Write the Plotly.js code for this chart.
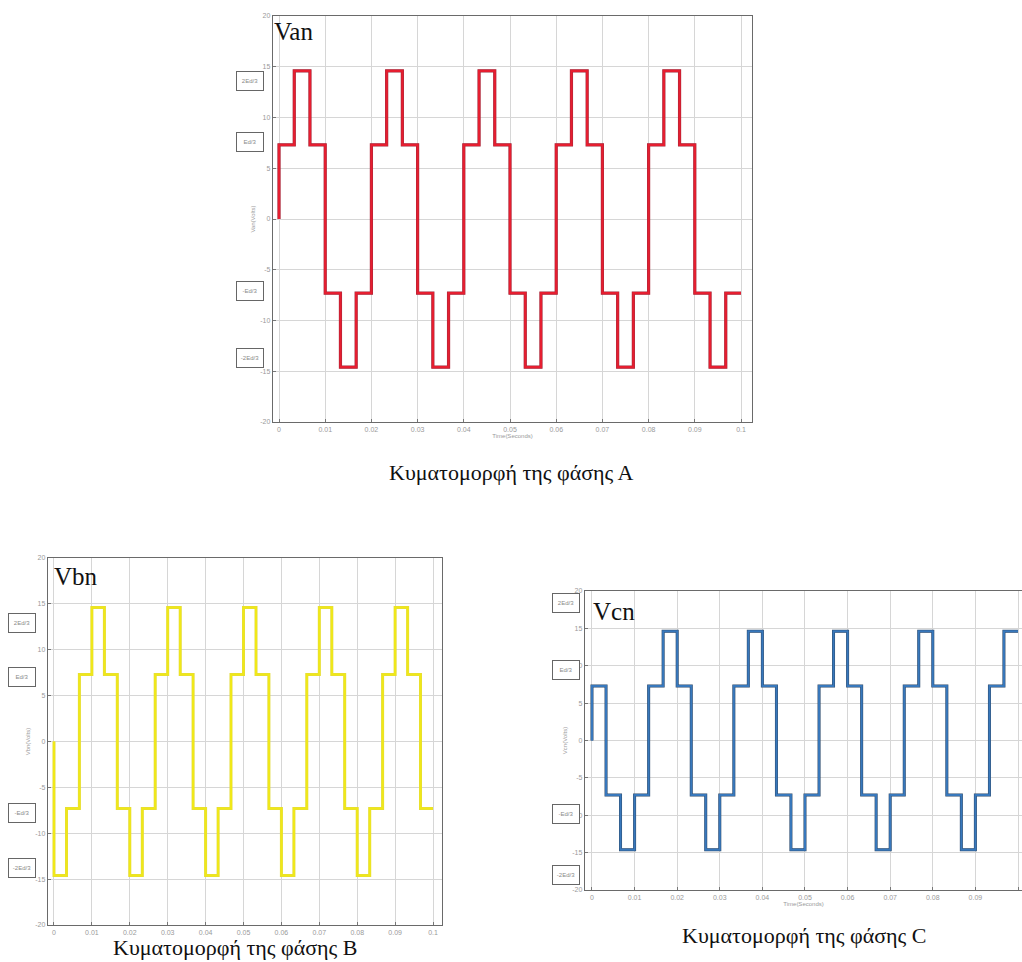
<!DOCTYPE html>
<html>
<head>
<meta charset="utf-8">
<script src="https://cdn.plot.ly/plotly-3.0.1.min.js"></script>
<style>html,body{margin:0;padding:0;background:#fff;}#chart{width:1022px;height:962px;}</style>
</head>
<body>
<div id="chart"></div>
<script>
// ---- data ----
const stepTimes = [0, 0.0033, 0.0067, 0.01, 0.0133, 0.0167, 0.02, 0.0233, 0.0267, 0.03, 0.0333, 0.0367,
  0.04, 0.0433, 0.0467, 0.05, 0.0533, 0.0567, 0.06, 0.0633, 0.0667, 0.07, 0.0733, 0.0767,
  0.08, 0.0833, 0.0867, 0.09, 0.0933, 0.0967, 0.1];
const vanLevels = [7.3, 14.6, 7.3, -7.3, -14.6, -7.3, 7.3, 14.6, 7.3, -7.3, -14.6, -7.3,
  7.3, 14.6, 7.3, -7.3, -14.6, -7.3, 7.3, 14.6, 7.3, -7.3, -14.6, -7.3,
  7.3, 14.6, 7.3, -7.3, -14.6, -7.3];
const vbnLevels = [-14.6, -7.3, 7.3, 14.6, 7.3, -7.3, -14.6, -7.3, 7.3, 14.6, 7.3, -7.3,
  -14.6, -7.3, 7.3, 14.6, 7.3, -7.3, -14.6, -7.3, 7.3, 14.6, 7.3, -7.3,
  -14.6, -7.3, 7.3, 14.6, 7.3, -7.3];
const vcnLevels = [7.3, -7.3, -14.6, -7.3, 7.3, 14.6, 7.3, -7.3, -14.6, -7.3, 7.3, 14.6,
  7.3, -7.3, -14.6, -7.3, 7.3, 14.6, 7.3, -7.3, -14.6, -7.3, 7.3, 14.6,
  7.3, -7.3, -14.6, -7.3, 7.3, 14.6];
const startValue = 0;
const xTickVals = [0, 0.01, 0.02, 0.03, 0.04, 0.05, 0.06, 0.07, 0.08, 0.09, 0.1];
const xTickText = ['0', '0.01', '0.02', '0.03', '0.04', '0.05', '0.06', '0.07', '0.08', '0.09', '0.1'];
const yTickVals = [-20, -15, -10, -5, 0, 5, 10, 15, 20];
const yTickText = ['-20', '-15', '-10', '-5', '0', '5', '10', '15', '20'];
const levelLabels = ['2Ed/3', 'Ed/3', '-Ed/3', '-2Ed/3'];
const phaseNames = ['Van', 'Vbn', 'Vcn'];
const captions = ['Κυματομορφή της φάσης Α', 'Κυματομορφή της φάσης Β', 'Κυματομορφή της φάσης C'];

// ---- layout helpers ----
const W = 1022, H = 962;
const px = x => x / W;
const py = y => 1 - y / H;

function series(levels) {
  const x = [stepTimes[0]], y = [startValue];
  for (let i = 0; i < levels.length; i++) { x.push(stepTimes[i]); y.push(levels[i]); }
  x.push(stepTimes[stepTimes.length - 1]); y.push(levels[levels.length - 1]);
  return {x, y};
}

const panels = [
  {levels: vanLevels, xa: 'x', ya: 'y', edge: '#a0283a', core: '#e61e30', ew: 3.2, cw: 2.2,
   dom: [px(273), px(752)], ydom: [py(422), py(16)], range: [-0.0013, 0.10238]},
  {levels: vbnLevels, xa: 'x2', ya: 'y2', edge: '#e2da40', core: '#f0e818', ew: 3.0, cw: 2.0,
   dom: [px(48), px(442)], ydom: [py(925), py(558)], range: [-0.00158, 0.10237]},
  {levels: vcnLevels, xa: 'x3', ya: 'y3', edge: '#2c4868', core: '#3878bc', ew: 3.0, cw: 2.0,
   dom: [px(585), 1], ydom: [py(890), py(591)], range: [-0.00164, 0.10094]}
];

const traces = [];
panels.forEach((p, i) => {
  const s = series(p.levels);
  traces.push({x: s.x, y: s.y, xaxis: p.xa, yaxis: p.ya, type: 'scatter', mode: 'lines',
    line: {shape: 'hv', color: p.edge, width: p.ew}, hoverinfo: 'skip', showlegend: false});
  traces.push({x: s.x, y: s.y, xaxis: p.xa, yaxis: p.ya, type: 'scatter', mode: 'lines',
    line: {shape: 'hv', color: p.core, width: p.cw}, name: phaseNames[i], showlegend: false});
});

const tickFont = {family: 'Liberation Sans, Arial, sans-serif', size: 7, color: '#9a9a9a'};
function xAxis(p, anchor, title) {
  return {domain: p.dom, range: p.range, anchor: anchor, tickvals: xTickVals, ticktext: xTickText,
    showgrid: true, gridcolor: '#d6d6d6', gridwidth: 1, zeroline: false,
    showline: true, mirror: true, linecolor: '#6a6a6a', linewidth: 1.2,
    ticks: 'inside', ticklen: 3, tickcolor: '#777', tickfont: tickFont,
    title: {text: title, font: {family: 'Liberation Sans, Arial, sans-serif', size: 6, color: '#9a9a9a'}, standoff: 2},
    fixedrange: true};
}
function yAxis(p, anchor, title) {
  return {domain: p.ydom, range: [-20, 20], anchor: anchor, tickvals: yTickVals, ticktext: yTickText,
    showgrid: true, gridcolor: '#d6d6d6', gridwidth: 1, zeroline: false,
    showline: true, mirror: true, linecolor: '#6a6a6a', linewidth: 1.2,
    ticks: 'inside', ticklen: 3, tickcolor: '#777', tickfont: tickFont,
    title: {text: title, font: {family: 'Liberation Sans, Arial, sans-serif', size: 6, color: '#9a9a9a'}, standoff: 4},
    fixedrange: true};
}

const annotations = [];
// phase names inside plots
const nameSpots = [[272, 31], [52, 576], [591, 611]];
nameSpots.forEach((s, i) => annotations.push({xref: 'paper', yref: 'paper', x: px(s[0]), y: py(s[1]),
  xanchor: 'left', yanchor: 'middle', showarrow: false, text: phaseNames[i],
  font: {family: 'Liberation Serif, Times New Roman, serif', size: 25, color: '#111'}}));
// captions
const capSpots = [[511, 472], [235, 947], [804, 935]];
capSpots.forEach((s, i) => annotations.push({xref: 'paper', yref: 'paper', x: px(s[0]), y: py(s[1]),
  xanchor: 'center', yanchor: 'middle', showarrow: false, text: captions[i],
  font: {family: 'Liberation Serif, Times New Roman, serif', size: 22, color: '#111'}}));
// boxed level labels
const boxSpots = [
  [250, [81, 142, 291, 358]],
  [22, [623, 677, 813, 868]],
  [566, [603, 670, 814, 875]]
];
boxSpots.forEach(b => b[1].forEach((yy, k) => annotations.push({xref: 'paper', yref: 'paper',
  x: px(b[0]), y: py(yy), xanchor: 'center', yanchor: 'middle', showarrow: false, text: levelLabels[k],
  font: {family: 'Liberation Sans, Arial, sans-serif', size: 6, color: '#888'},
  bordercolor: '#666', borderwidth: 1, borderpad: 3, bgcolor: '#fff', width: 20, height: 12})));

const layout = {
  width: W, height: H, margin: {l: 0, r: 0, t: 0, b: 0},
  paper_bgcolor: '#fff', plot_bgcolor: '#fff', showlegend: false,
  xaxis: xAxis(panels[0], 'y', 'Time(Seconds)'),
  yaxis: yAxis(panels[0], 'x', 'Van(Volts)'),
  xaxis2: xAxis(panels[1], 'y2', ''),
  yaxis2: yAxis(panels[1], 'x2', 'Vbn(Volts)'),
  xaxis3: xAxis(panels[2], 'y3', 'Time(Seconds)'),
  yaxis3: yAxis(panels[2], 'x3', 'Vcn(Volts)'),
  annotations: annotations
};

Plotly.newPlot('chart', traces, layout, {displayModeBar: false, staticPlot: true});
</script>
</body>
</html>
